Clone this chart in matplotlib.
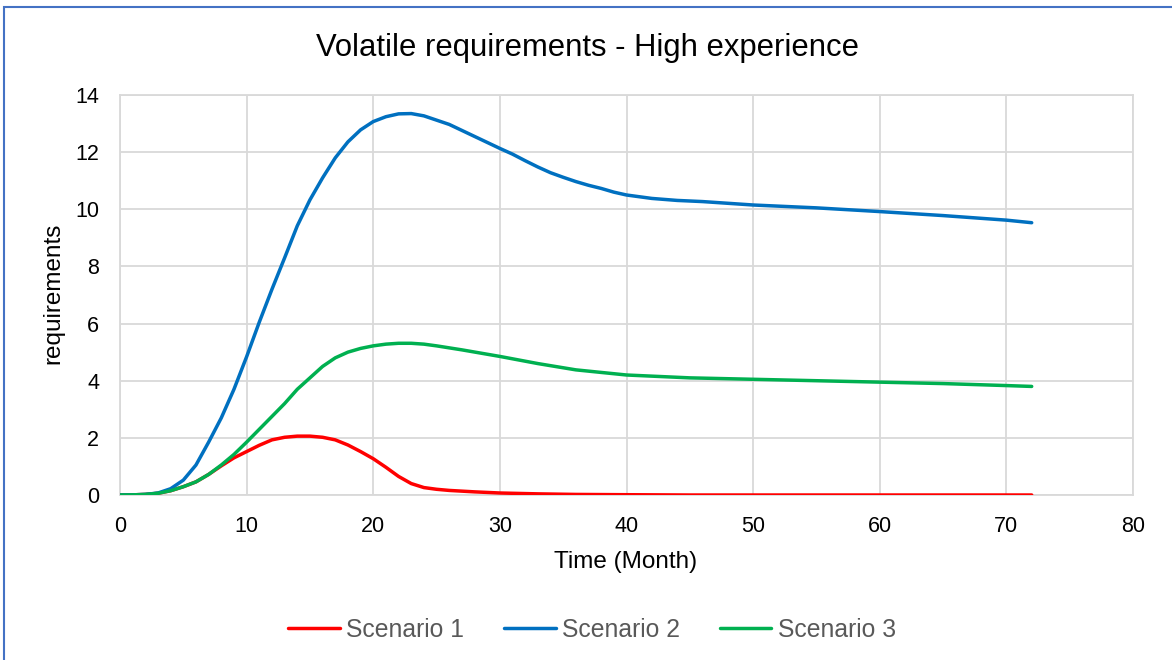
import matplotlib
matplotlib.use('Agg')
import matplotlib.pyplot as plt
from matplotlib.patches import Rectangle

# values (month -> requirements)
months_1 = [0, 1, 2, 3, 4, 5, 6, 7, 8, 9, 10, 11, 12, 13, 14, 15, 16, 17, 18, 19, 20, 21, 22, 23, 24, 25, 26, 28, 30, 33, 36, 40, 45, 72]
scenario_1 = [0, 0.005, 0.02, 0.06, 0.15, 0.29, 0.46, 0.72, 1.02, 1.3, 1.52, 1.74, 1.93, 2.02, 2.06, 2.06, 2.02, 1.93, 1.75, 1.52, 1.27, 0.97, 0.65, 0.4, 0.26, 0.2, 0.16, 0.11, 0.07, 0.04, 0.02, 0.01, 0.0, 0.0]

months_2 = [0, 1, 2, 3, 4, 5, 6, 7, 8, 9, 10, 11, 12, 13, 14, 15, 16, 17, 18, 19, 20, 21, 22, 23, 24, 25, 26, 27, 28, 29, 30,
            31, 32, 33, 34, 35, 36, 37, 38, 39, 40, 42, 44, 46, 50, 55, 60, 65, 70, 72]
scenario_2 = [0, 0.005, 0.02, 0.07, 0.22, 0.52, 1.05, 1.85, 2.7, 3.7, 4.84, 6.05, 7.2, 8.3, 9.42, 10.33, 11.1, 11.8, 12.36, 12.78, 13.07, 13.24, 13.34, 13.35, 13.27, 13.12, 12.97, 12.76, 12.55, 12.34, 12.13,
              11.93, 11.7, 11.48, 11.28, 11.12, 10.97, 10.84, 10.73, 10.6, 10.5, 10.38, 10.31, 10.27, 10.15, 10.05, 9.92, 9.78, 9.62, 9.53]

months_3 = [0, 1, 2, 3, 4, 5, 6, 7, 8, 9, 10, 11, 12, 13, 14, 15, 16, 17, 18, 19, 20, 21, 22, 23, 24, 25, 27, 30, 33, 36, 40, 45, 50, 55, 60, 65, 70, 72]
scenario_3 = [0, 0.005, 0.02, 0.06, 0.15, 0.29, 0.46, 0.72, 1.05, 1.42, 1.85, 2.3, 2.75, 3.2, 3.7, 4.1, 4.5, 4.8, 5.0, 5.13, 5.22, 5.28, 5.31, 5.31, 5.28, 5.22, 5.08, 4.85, 4.6, 4.38, 4.2, 4.1, 4.05, 4.0, 3.95, 3.9, 3.83, 3.8]

x_ticks = [0, 10, 20, 30, 40, 50, 60, 70, 80]
y_ticks = [0, 2, 4, 6, 8, 10, 12, 14]

W, H = 1172, 660
plt.rcParams['font.family'] = ['Liberation Sans', 'DejaVu Sans']

fig = plt.figure(figsize=(W / 100, H / 100), dpi=100)
ax = fig.add_axes([120 / W, 1 - 495 / H, (1133 - 120) / W, 400 / H])

ax.plot(months_1, scenario_1, color='#FF0000', lw=2.5, label='Scenario 1', solid_capstyle='round', solid_joinstyle='round', zorder=3)
ax.plot(months_2, scenario_2, color='#0070C0', lw=2.5, label='Scenario 2', solid_capstyle='round', solid_joinstyle='round', zorder=3)
ax.plot(months_3, scenario_3, color='#00B050', lw=2.5, label='Scenario 3', solid_capstyle='round', solid_joinstyle='round', zorder=3)

ax.set_xlim(0, 80)
ax.set_ylim(0, 14)
ax.set_xticks(x_ticks)
ax.set_yticks(y_ticks)
ax.tick_params(length=0, labelsize=15.5, colors='black')
ax.tick_params(axis='x', pad=15)
ax.tick_params(axis='y', pad=15)
ax.grid(True, color='#D9D9D9', lw=1.3)
ax.set_axisbelow(True)
for s in ax.spines.values():
    s.set_color('#D9D9D9')
    s.set_linewidth(1.3)

fig.text(588 / W, 1 - 56 / H, 'Volatile requirements - High experience',
         ha='center', va='baseline', fontsize=22.3)
fig.text(626 / W, 1 - 568 / H, 'Time (Month)', ha='center', va='baseline', fontsize=17.5)
fig.text(53 / W, 1 - 293 / H, 'requirements', ha='center', va='center', rotation=90, fontsize=17.5)

fig.legend(loc='center', bbox_to_anchor=(592 / W, 1 - 630 / H), ncol=3, frameon=False,
           fontsize=17.8, labelcolor='#595959', handlelength=2.1, handletextpad=0.25,
           columnspacing=1.6)

# chart border (left/top edge visible)
fig.add_artist(Rectangle((4 / W, -0.1), 2, 1.1 - 7 / H, transform=fig.transFigure,
                         fill=False, ec='#4472C4', lw=1.5))

fig.savefig('out.png', dpi=100)
